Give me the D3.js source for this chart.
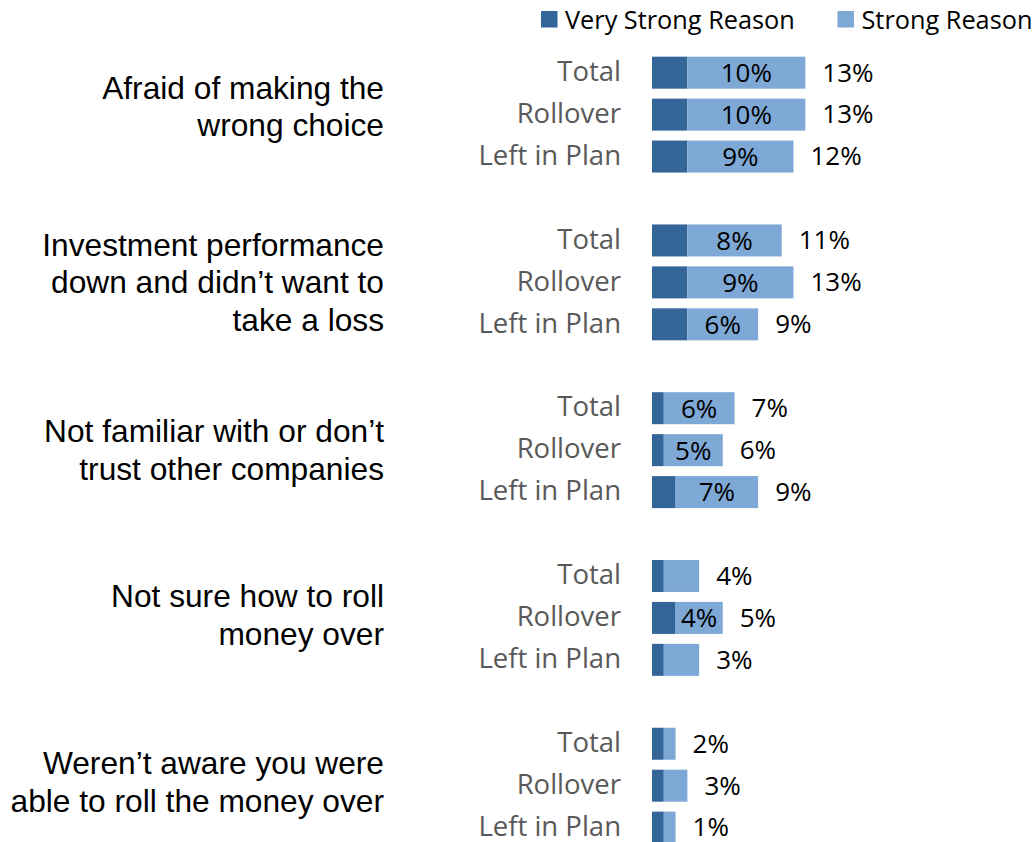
<!DOCTYPE html>
<html>
<head>
<meta charset="utf-8">
<script src="https://cdn.jsdelivr.net/npm/d3@7"></script>
<style>
  html, body { margin: 0; padding: 0; background: #fff; }
  svg { display: block; }
</style>
</head>
<body>
<svg id="chart" width="1032" height="842"></svg>
<script>
// ---- data ----
const categories = [
  ["Afraid of making the", "wrong choice"],
  ["Investment performance", "down and didn\u2019t want to", "take a loss"],
  ["Not familiar with or don\u2019t", "trust other companies"],
  ["Not sure how to roll", "money over"],
  ["Weren\u2019t aware you were", "able to roll the money over"]
];
const rowLabels = ["Total", "Rollover", "Left in Plan"];
const seriesNames = ["Very Strong Reason", "Strong Reason"];
const veryStrong = [[3, 3, 3], [3, 3, 3], [1, 1, 2], [1, 2, 1], [1, 1, 1]];
const strong = [[10, 10, 9], [8, 9, 6], [6, 5, 7], [3, 4, 3], [1, 2, 1]];
const totalLabels = [[13, 13, 12], [11, 13, 9], [7, 6, 9], [4, 5, 3], [2, 3, 1]];

// ---- styles / layout ----
const colors = ["#346599", "#7EA8D5"];
const labelNudge = [-8, 0, 0, -3, -4]; // vertical fine-tuning of category text blocks
const svg = d3.select("#chart");

// flatten rows into slots (each group: 3 rows + 1 blank slot)
const rows = [];
categories.forEach((c, gi) => {
  rowLabels.forEach((r, ri) => {
    rows.push({ g: gi, r: ri, slot: gi * 4 + ri, label: r,
      vs: veryStrong[gi][ri], s: strong[gi][ri], total: totalLabels[gi][ri] });
  });
});

const x = d3.scaleLinear().domain([0, 13]).range([652, 805.3]);
const y = d3.scaleBand().domain(d3.range(19)).range([51.7, 848.6])
  .paddingInner(0.237).paddingOuter(0.1185);
const bw = y.bandwidth();

const g = svg.append("g");

// bars
g.selectAll("rect.vs").data(rows).join("rect").attr("class", "vs")
  .attr("x", x(0)).attr("y", d => y(d.slot))
  .attr("width", d => x(d.vs) - x(0)).attr("height", bw)
  .attr("fill", colors[0]);
g.selectAll("rect.s").data(rows).join("rect").attr("class", "s")
  .attr("x", d => x(d.vs)).attr("y", d => y(d.slot))
  .attr("width", d => x(d.vs + d.s) - x(d.vs)).attr("height", bw)
  .attr("fill", colors[1]);

// inner labels (strong reason)
g.selectAll("text.inner").data(rows.filter(d => d.s >= 4)).join("text").attr("class", "inner")
  .attr("x", d => (x(d.vs) + x(d.vs + d.s)) / 2)
  .attr("y", d => y(d.slot) + bw / 2)
  .attr("dy", "0.36em")
  .attr("text-anchor", "middle")
  .attr("font-family", "'Open Sans', sans-serif").attr("font-size", 26)
  .attr("fill", "#000")
  .text(d => d.s + "%");

// total labels
g.selectAll("text.total").data(rows).join("text").attr("class", "total")
  .attr("x", d => x(d.vs + d.s) + 17)
  .attr("y", d => y(d.slot) + bw / 2)
  .attr("dy", "0.34em")
  .attr("text-anchor", "start")
  .attr("font-family", "'Open Sans', sans-serif").attr("font-size", 26)
  .attr("fill", "#000")
  .text(d => d.total + "%");

// row labels
g.selectAll("text.row").data(rows).join("text").attr("class", "row")
  .attr("x", 621)
  .attr("y", d => y(d.slot) + bw / 2)
  .attr("dy", "0.3em")
  .attr("text-anchor", "end")
  .attr("font-family", "'Open Sans', sans-serif").attr("font-size", 27.5)
  .attr("fill", "#595959")
  .text(d => d.label);

// category labels (centered on the middle row of each group)
const lh = 37.5;
categories.forEach((lines, gi) => {
  const cy = y(gi * 4 + 1) + bw / 2 + labelNudge[gi];
  const t = g.append("text")
    .attr("text-anchor", "end")
    .attr("font-family", "'Liberation Sans', 'Arimo', Arial, Helvetica, sans-serif")
    .attr("font-size", 31.7)
    .attr("fill", "#000");
  lines.forEach((ln, i) => {
    t.append("tspan")
      .attr("x", 384)
      .attr("y", cy + (i - (lines.length - 1) / 2) * lh)
      .attr("dy", "0.35em")
      .text(ln);
  });
});

// legend
const legendX = [541, 837.5];
const leg = svg.append("g").selectAll("g").data(seriesNames).join("g")
  .attr("transform", (d, i) => `translate(${legendX[i]},11)`);
leg.append("rect").attr("width", 16.5).attr("height", 16.5).attr("fill", (d, i) => colors[i]);
leg.append("text").attr("x", 24).attr("y", 8.5).attr("dy", "0.36em")
  .attr("font-family", "'Open Sans', sans-serif").attr("font-size", 25.3)
  .attr("fill", "#000").text(d => d);
</script>
</body>
</html>
